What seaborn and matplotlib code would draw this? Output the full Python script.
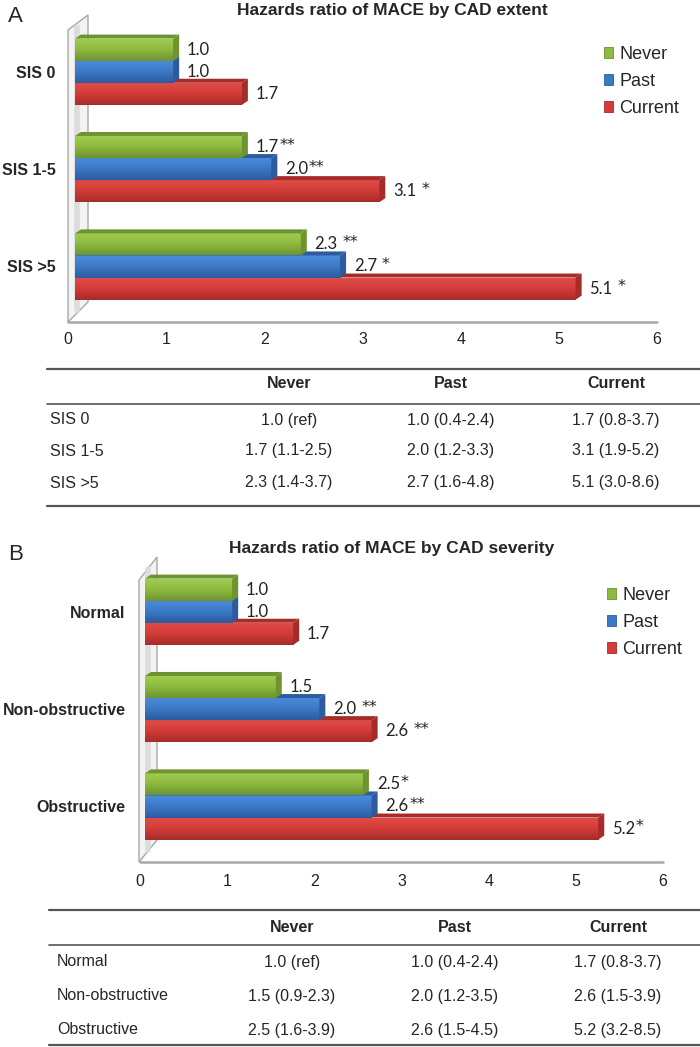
import numpy as np
import pandas as pd
import matplotlib
matplotlib.use("Agg")
import matplotlib.pyplot as plt
import seaborn as sns
from matplotlib.patches import Polygon, Patch
from matplotlib.lines import Line2D
from matplotlib.colors import LinearSegmentedColormap

# ---------------- data ----------------
groups = ["Never", "Past", "Current"]

extent_cats = ["SIS 0", "SIS 1-5", "SIS >5"]
extent_never = [1.0, 1.7, 2.3]
extent_past = [1.0, 2.0, 2.7]
extent_current = [1.7, 3.1, 5.1]
extent_stars_never = ["", "**", " **"]
extent_stars_past = ["", "**", " *"]
extent_stars_current = ["", " *", " *"]

severity_cats = ["Normal", "Non-obstructive", "Obstructive"]
severity_never = [1.0, 1.5, 2.5]
severity_past = [1.0, 2.0, 2.6]
severity_current = [1.7, 2.6, 5.2]
severity_stars_never = ["", "", "*"]
severity_stars_past = ["", " **", "**"]
severity_stars_current = ["", " **", "*"]

xticks = [0, 1, 2, 3, 4, 5, 6]

extent_table = [
    ["1.0 (ref)", "1.0 (0.4-2.4)", "1.7 (0.8-3.7)"],
    ["1.7 (1.1-2.5)", "2.0 (1.2-3.3)", "3.1 (1.9-5.2)"],
    ["2.3 (1.4-3.7)", "2.7 (1.6-4.8)", "5.1 (3.0-8.6)"],
]
severity_table = [
    ["1.0 (ref)", "1.0 (0.4-2.4)", "1.7 (0.8-3.7)"],
    ["1.5 (0.9-2.3)", "2.0 (1.2-3.5)", "2.6 (1.5-3.9)"],
    ["2.5 (1.6-3.9)", "2.6 (1.5-4.5)", "5.2 (3.2-8.5)"],
]

colors = {"Never": "#8dba3f", "Past": "#3b78c6", "Current": "#d33c38"}
light = {"Never": "#a2cf52", "Past": "#4d8ddb", "Current": "#e04d48"}
dark = {"Never": "#6e9330", "Past": "#2c5c9e", "Current": "#a52c29"}

W, H = 700, 1047
sns.set_theme(style="white")
plt.rcParams["font.family"] = ["Liberation Sans", "DejaVu Sans"]

fig = plt.figure(figsize=(W / 100, H / 100), dpi=100)


def fx(x):
    return x / W


def fy(y):
    return 1 - y / H


def make_df(cats, never, past, current):
    rows = []
    for g, vals in zip(groups, [never, past, current]):
        for c, v in zip(cats, vals):
            rows.append({"cat": c, "group": g, "hr": v})
    return pd.DataFrame(rows)


def add_3d(ax, d=6, d2=4):
    # fake 3D look: shaded front, top face and right cap on each bar
    inv = ax.transData.inverted()
    zo = {"Never": 4, "Past": 3, "Current": 2}
    grad = np.linspace(0, 1, 64).reshape(-1, 1)
    for g, cont in zip(groups, ax.containers):
        cmap = LinearSegmentedColormap.from_list(g, [light[g], colors[g], dark[g]])
        for p in cont.patches:
            p.set_zorder(zo[g])
            p.set_edgecolor("none")
            x0, y0, w, h = p.get_x(), p.get_y(), p.get_width(), p.get_height()
            im = ax.imshow(grad, extent=(x0, x0 + w, y0 + h, y0), aspect="auto",
                           cmap=cmap, interpolation="bilinear", zorder=zo[g] + 0.05)
            im.set_clip_path(p)
            bb = p.get_window_extent()
            x0, x1, yb, yt = bb.x0, bb.x1, bb.y0, bb.y1
            top = [(x0, yt), (x1, yt), (x1 + d, yt + d2), (x0 + d, yt + d2)]
            cap = [(x1, yb), (x1 + d, yb + d2), (x1 + d, yt + d2), (x1, yt)]
            for pts, fc in [(top, dark[g]), (cap, dark[g])]:
                poly = Polygon(inv.transform(pts), closed=True, facecolor=fc,
                               edgecolor="none", zorder=zo[g] + 0.1)
                ax.add_patch(poly)


def panel(letter, title, cats, never, past, current, stars, table,
          ax_box, wall, floor, title_y, legend_xy, tick_y, tab):
    left, top, right, bottom = ax_box
    ax = fig.add_axes([fx(left), fy(bottom), fx(right - left), (bottom - top) / H])
    ax.patch.set_visible(False)
    df = make_df(cats, never, past, current)
    sns.barplot(data=df, x="hr", y="cat", hue="group", orient="h", order=cats,
                hue_order=groups, palette=colors, width=0.68, saturation=1,
                legend=False, ax=ax)
    ax.set_xlim(0, 6)
    ax.set_ylim(2.57, -0.5)
    add_3d(ax)
    ax.set_xlim(0, 6)
    ax.set_ylim(2.57, -0.5)
    ax.set_xlabel("")
    ax.set_ylabel("")
    ax.set_xticks(xticks)
    ax.set_xticklabels([])
    ax.tick_params(axis="y", length=0, pad=14)
    for lab in ax.get_yticklabels():
        lab.set_fontweight("bold")
        lab.set_fontsize(11.5)
    for s in ax.spines.values():
        s.set_visible(False)
    ax.tick_params(axis="x", length=0)

    for g, cont, st in zip(groups, ax.containers, stars):
        labs = [f"{v:.1f}" for v in cont.datavalues]
        texts = ax.bar_label(cont, labels=labs, padding=10, fontsize=12,
                             family=["Lato", "DejaVu Sans"], color="#222222", zorder=6)
        for txt, s in zip(texts, st):
            if s.strip():
                gap = 3.5 if s.startswith(" ") else 0.5
                ax.annotate(s.strip(), xy=(1, 1), xycoords=txt, xytext=(gap, 1),
                            textcoords="offset points", ha="left", va="top",
                            fontsize=11.5, family=["DejaVu Sans"], color="#222222",
                            annotation_clip=False)

    # wall and floor
    fig.add_artist(Polygon([(fx(x), fy(y)) for x, y in wall], closed=True,
                           facecolor="#f3f3f3", edgecolor="#a8a8a8", lw=1.0,
                           zorder=-1, transform=fig.transFigure))
    wx = [p[0] for p in wall]
    fig.add_artist(Line2D([fx(min(wx) + 9), fx(min(wx) + 9)],
                          [fy(wall[1][1] + 12), fy(floor[2] - 12)],
                          color="#dcdcdc", lw=4, zorder=-0.5))
    fig.add_artist(Line2D([fx(floor[0]), fx(floor[1])], [fy(floor[2]), fy(floor[2])],
                          color="#a8a8a8", lw=1.8, zorder=1))

    # tick labels (floor is shifted left from the bar origin)
    for t in xticks:
        xp = floor[0] + (floor[1] - floor[0]) * t / 6
        fig.text(fx(xp), fy(tick_y), str(t), ha="center", va="center", fontsize=11.5,
                 color="#222222")

    fig.text(fx(8), fy(title_y + 5), letter, fontsize=16, ha="left", va="center")
    fig.text(fx(392), fy(title_y), title, fontsize=12.5, fontweight="bold",
             ha="center", va="center")

    handles = [Patch(facecolor=colors[g], edgecolor=dark[g], lw=0.6) for g in groups]
    ax.legend(handles, groups, loc="upper left", bbox_to_anchor=(fx(legend_xy[0]), fy(legend_xy[1])),
              bbox_transform=fig.transFigure, frameon=False, fontsize=13,
              borderpad=0, borderaxespad=0, handlelength=0.5, handleheight=0.5,
              handletextpad=0.35, labelspacing=0.55)

    # table
    tl, t_top, t_head, t_hline, rows_y, t_bot, col_x, lab_x = tab
    for yy, lw in [(t_top, 1.6), (t_hline, 1.2), (t_bot, 1.6)]:
        fig.add_artist(Line2D([fx(tl), fx(700)], [fy(yy), fy(yy)], color="#555555", lw=lw))
    for g, cx in zip(groups, col_x):
        fig.text(fx(cx), fy(t_head), g, ha="center", va="center", fontsize=11.5,
                 fontweight="bold")
    for cat, row, ry in zip(cats, table, rows_y):
        fig.text(fx(lab_x), fy(ry), cat, ha="left", va="center", fontsize=11.5)
        for cell, cx in zip(row, col_x):
            fig.text(fx(cx), fy(ry), cell, ha="center", va="center", fontsize=11.5)
    return ax


panel("A", "Hazards ratio of MACE by CAD extent", extent_cats,
      extent_never, extent_past, extent_current,
      [extent_stars_never, extent_stars_past, extent_stars_current], extent_table,
      ax_box=(75, 23, 664, 322),
      wall=[(68, 30), (88, 15), (88, 302), (68, 322)],
      floor=(68, 657, 322), title_y=11, legend_xy=(604, 46), tick_y=339,
      tab=(47, 369, 384, 404, [420, 451, 483], 506, [289, 451, 616], 50))

panel("B", "Hazards ratio of MACE by CAD severity", severity_cats,
      severity_never, severity_past, severity_current,
      [severity_stars_never, severity_stars_past, severity_stars_current], severity_table,
      ax_box=(145, 563, 668, 862),
      wall=[(139, 580), (157, 557), (157, 840), (139, 862)],
      floor=(140, 663, 862), title_y=549, legend_xy=(607, 587), tick_y=881,
      tab=(49, 910, 927, 945, [962, 996, 1030], 1045, [292, 455, 618], 57))

fig.savefig("out.png", dpi=100)
